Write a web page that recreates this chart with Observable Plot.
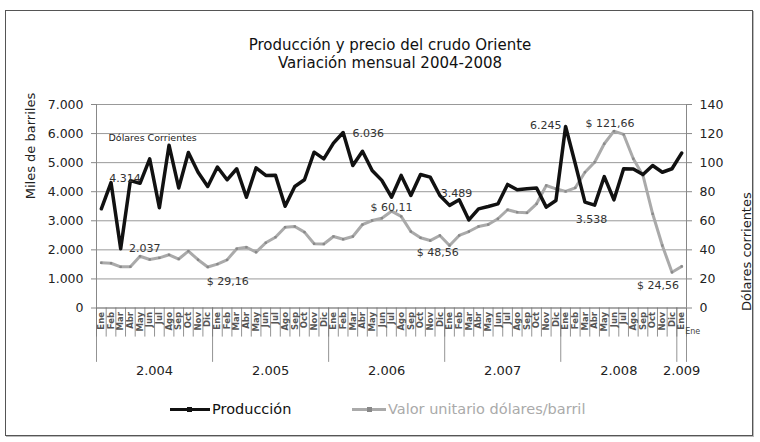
<!DOCTYPE html>
<html>
<head>
<meta charset="utf-8">
<script src="https://cdn.jsdelivr.net/npm/d3@7"></script>
<script src="https://cdn.jsdelivr.net/npm/@observablehq/plot@0.6"></script>
<style>
  html, body { margin: 0; padding: 0; background: #fff; }
  #wrap { position: relative; width: 760px; height: 442px; overflow: hidden; font-family: "DejaVu Sans", sans-serif; }
  #frame { position: absolute; left: 5px; top: 10px; width: 746px; height: 424px; border: 1.5px solid #555; box-shadow: 1px 1px 0 #bbb; }
  .title { position: absolute; left: 0; width: 780px; text-align: center; font-size: 15px; color: #111; white-space: nowrap; }
  #chart { position: absolute; left: 0; top: 0; }
  .leg { position: absolute; top: 401px; font-size: 14.5px; white-space: nowrap; display: flex; align-items: center; }
  .leg .sw { position: relative; display: inline-block; height: 3px; margin-right: 2px; }
  .leg .mk { position: absolute; top: -1px; width: 5px; height: 5px; }
</style>
</head>
<body>
<div id="wrap">
  <div id="frame"></div>
  <div class="title" style="top:36px">Producción y precio del crudo Oriente</div>
  <div class="title" style="top:54px">Variación mensual 2004-2008</div>
  <div id="chart"></div>
  <div class="leg" style="left:170px;color:#111">
    <span class="sw" style="width:40px;background:#111"><span class="mk" style="left:17px;background:#111"></span></span>Producción
  </div>
  <div class="leg" style="left:352px;color:#aaa">
    <span class="sw" style="width:34px;background:#aaa"><span class="mk" style="left:15px;background:#888"></span></span>Valor unitario dólares/barril
  </div>
</div>
<script>
// ---- data ----
const meses = ["Ene","Feb","Mar","Abr","May","Jun","Jul","Ago","Sep","Oct","Nov","Dic"];
const anios = ["2.004","2.005","2.006","2.007","2.008","2.009"];
// Producción mensual (miles de barriles), Ene 2004 .. Ene 2009
const produccion = [
  3412, 4314, 2037, 4380, 4290, 5130, 3450, 5600, 4130, 5350, 4670, 4180,
  4850, 4410, 4790, 3810, 4820, 4560, 4570, 3500, 4180, 4410, 5360, 5130,
  5670, 6036, 4900, 5390, 4730, 4390, 3810, 4560, 3870, 4590, 4500, 3870,
  3530, 3720, 3030, 3410, 3490, 3580, 4250, 4070, 4100, 4130, 3470, 3700,
  6245, 4960, 3640, 3538, 4520, 3720, 4790, 4780, 4590, 4900, 4670, 4790,
  5330
];
// Valor unitario (dólares/barril)
const precio = [
  31.1, 30.8, 28.3, 28.4, 35.6, 33.4, 34.5, 36.6, 33.7, 39.1, 33.2, 28.2,
  30.2, 33.1, 40.8, 41.8, 38.4, 44.9, 48.7, 55.6, 56.1, 52.2, 44.2, 44.0,
  49.2, 47.3, 49.2, 57.4, 60.2, 61.8, 66.6, 63.0, 52.6, 48.3, 46.4, 49.9,
  43.0, 49.9, 52.6, 56.1, 57.4, 61.4, 67.6, 65.9, 65.5, 71.7, 84.3, 82.0,
  80.2, 82.7, 93.4, 100.3, 113.0, 121.66, 119.4, 102.7, 91.2, 64.8, 43.0, 24.56,
  28.6
];
const ticksIzq = [0, 1000, 2000, 3000, 4000, 5000, 6000, 7000];
// etiquetas de datos (índice de mes, texto)
const etiquetasProd = [[1, "4.314"], [2, "2.037"], [25, "6.036"], [36, "3.489"], [48, "6.245"], [51, "3.538"]];
const etiquetasPrecio = [[11, "$ 29,16"], [30, "$ 60,11"], [35, "$ 48,56"], [53, "$ 121,66"], [59, "$ 24,56"]];

// ---- build ----
const k = 50; // 140 dólares <-> 7000 miles de barriles
const idx = d3.range(produccion.length);
const prod = idx.map(i => ({i, v: produccion[i]}));
const prec = idx.map(i => ({i, v: precio[i] * k}));
const fmtMiles = d => d3.format(",")(d).replace(/,/g, ".");
const yearStart = [0, 12, 24, 36, 48, 60];
const yearCenter = [5.5, 17.5, 29.5, 41.5, 53.5, 60];
const bounds = d3.range(produccion.length + 1).map(i => i - 0.5);
const yearBounds = [...yearStart.map(s => s - 0.5), produccion.length - 0.5];

function lab(arr, which, j, opts) {
  const [i, t] = arr[j];
  const v = which === "p" ? produccion[i] : precio[i] * k;
  return Plot.text([{i, v, t}], {x: "i", y: "v", text: "t", fontSize: 11, fill: "#333", ...opts});
}

const chart = Plot.plot({
  width: 760,
  height: 400,
  marginLeft: 96,
  marginRight: 74,
  marginTop: 104,
  marginBottom: 92.5,
  style: {fontFamily: "DejaVu Sans, sans-serif", background: "transparent", overflow: "visible"},
  x: {type: "linear", domain: [-0.5, 60.5], axis: null},
  y: {domain: [0, 7000]},
  marks: [
    Plot.gridY(ticksIzq, {stroke: "#999", strokeOpacity: 1, strokeWidth: 1}),
    Plot.ruleX([-0.5, 60.5], {y1: 0, y2: 7000, stroke: "#888"}),
    Plot.axisY({anchor: "left", ticks: ticksIzq, tickFormat: fmtMiles, tickSize: 5, tickPadding: 8, fontSize: 12.5, label: null, color: "#222", stroke: "#888"}),
    Plot.axisY({anchor: "right", ticks: ticksIzq, tickFormat: d => d / k, tickSize: 5, tickPadding: 8, fontSize: 12.5, label: null, color: "#222", stroke: "#888"}),
    Plot.text(["Miles de barriles"], {frameAnchor: "left", rotate: -90, dx: -66, dy: -7, fontSize: 13, fill: "#222"}),
    Plot.text(["Dólares corrientes"], {frameAnchor: "right", rotate: -90, dx: 60, dy: -14, fontSize: 13, fill: "#222"}),
    // eje x de categorías
    Plot.ruleY([0], {stroke: "#888"}),
    Plot.ruleX(bounds, {y1: 0, y2: -1000, stroke: "#777", strokeWidth: 0.8}),
    Plot.ruleX(yearBounds, {y1: 0, y2: -1870, stroke: "#777", strokeWidth: 0.8}),
    Plot.text(idx, {x: d => d, y: 0, text: d => meses[d % 12], rotate: -90, textAnchor: "end", lineAnchor: "middle", dy: 4, fontSize: 8.5, fontWeight: "bold", fill: "#555"}),
    Plot.text(["Ene"], {x: [60], frameAnchor: "bottom", dx: 11, dy: 26, fontSize: 8, fill: "#444"}),
    Plot.text(anios, {x: (d, j) => yearCenter[j], frameAnchor: "bottom", dy: 67, fontSize: 13, fill: "#222"}),
    // series
    Plot.line(prec, {x: "i", y: "v", stroke: "#aaa", strokeWidth: 3}),
    Plot.dot(prec, {x: "i", y: "v", r: 1.3, fill: "#888", symbol: "square"}),
    Plot.line(prod, {x: "i", y: "v", stroke: "#111", strokeWidth: 3.5}),
    // anotaciones
    Plot.text(["Dólares Corrientes"], {frameAnchor: "top-left", dx: 12, dy: 30, fontSize: 9.5, fill: "#222", textAnchor: "start"}),
    lab(etiquetasProd, "p", 0, {dx: 14, dy: -4}),
    lab(etiquetasProd, "p", 1, {dx: 24, dy: 0}),
    lab(etiquetasProd, "p", 2, {dx: 25, dy: 1}),
    lab(etiquetasProd, "p", 3, {dx: 7, dy: -12}),
    lab(etiquetasProd, "p", 4, {textAnchor: "end", dx: -4, dy: -1}),
    lab(etiquetasProd, "p", 5, {dx: -3, dy: 14}),
    lab(etiquetasPrecio, "c", 0, {dx: 20, dy: 14}),
    lab(etiquetasPrecio, "c", 1, {dx: 0, dy: -4}),
    lab(etiquetasPrecio, "c", 2, {dx: -2, dy: 17}),
    lab(etiquetasPrecio, "c", 3, {dx: -4, dy: -8}),
    lab(etiquetasPrecio, "c", 4, {dx: -14, dy: 13})
  ]
});
document.getElementById("chart").appendChild(chart);
</script>
</body>
</html>
